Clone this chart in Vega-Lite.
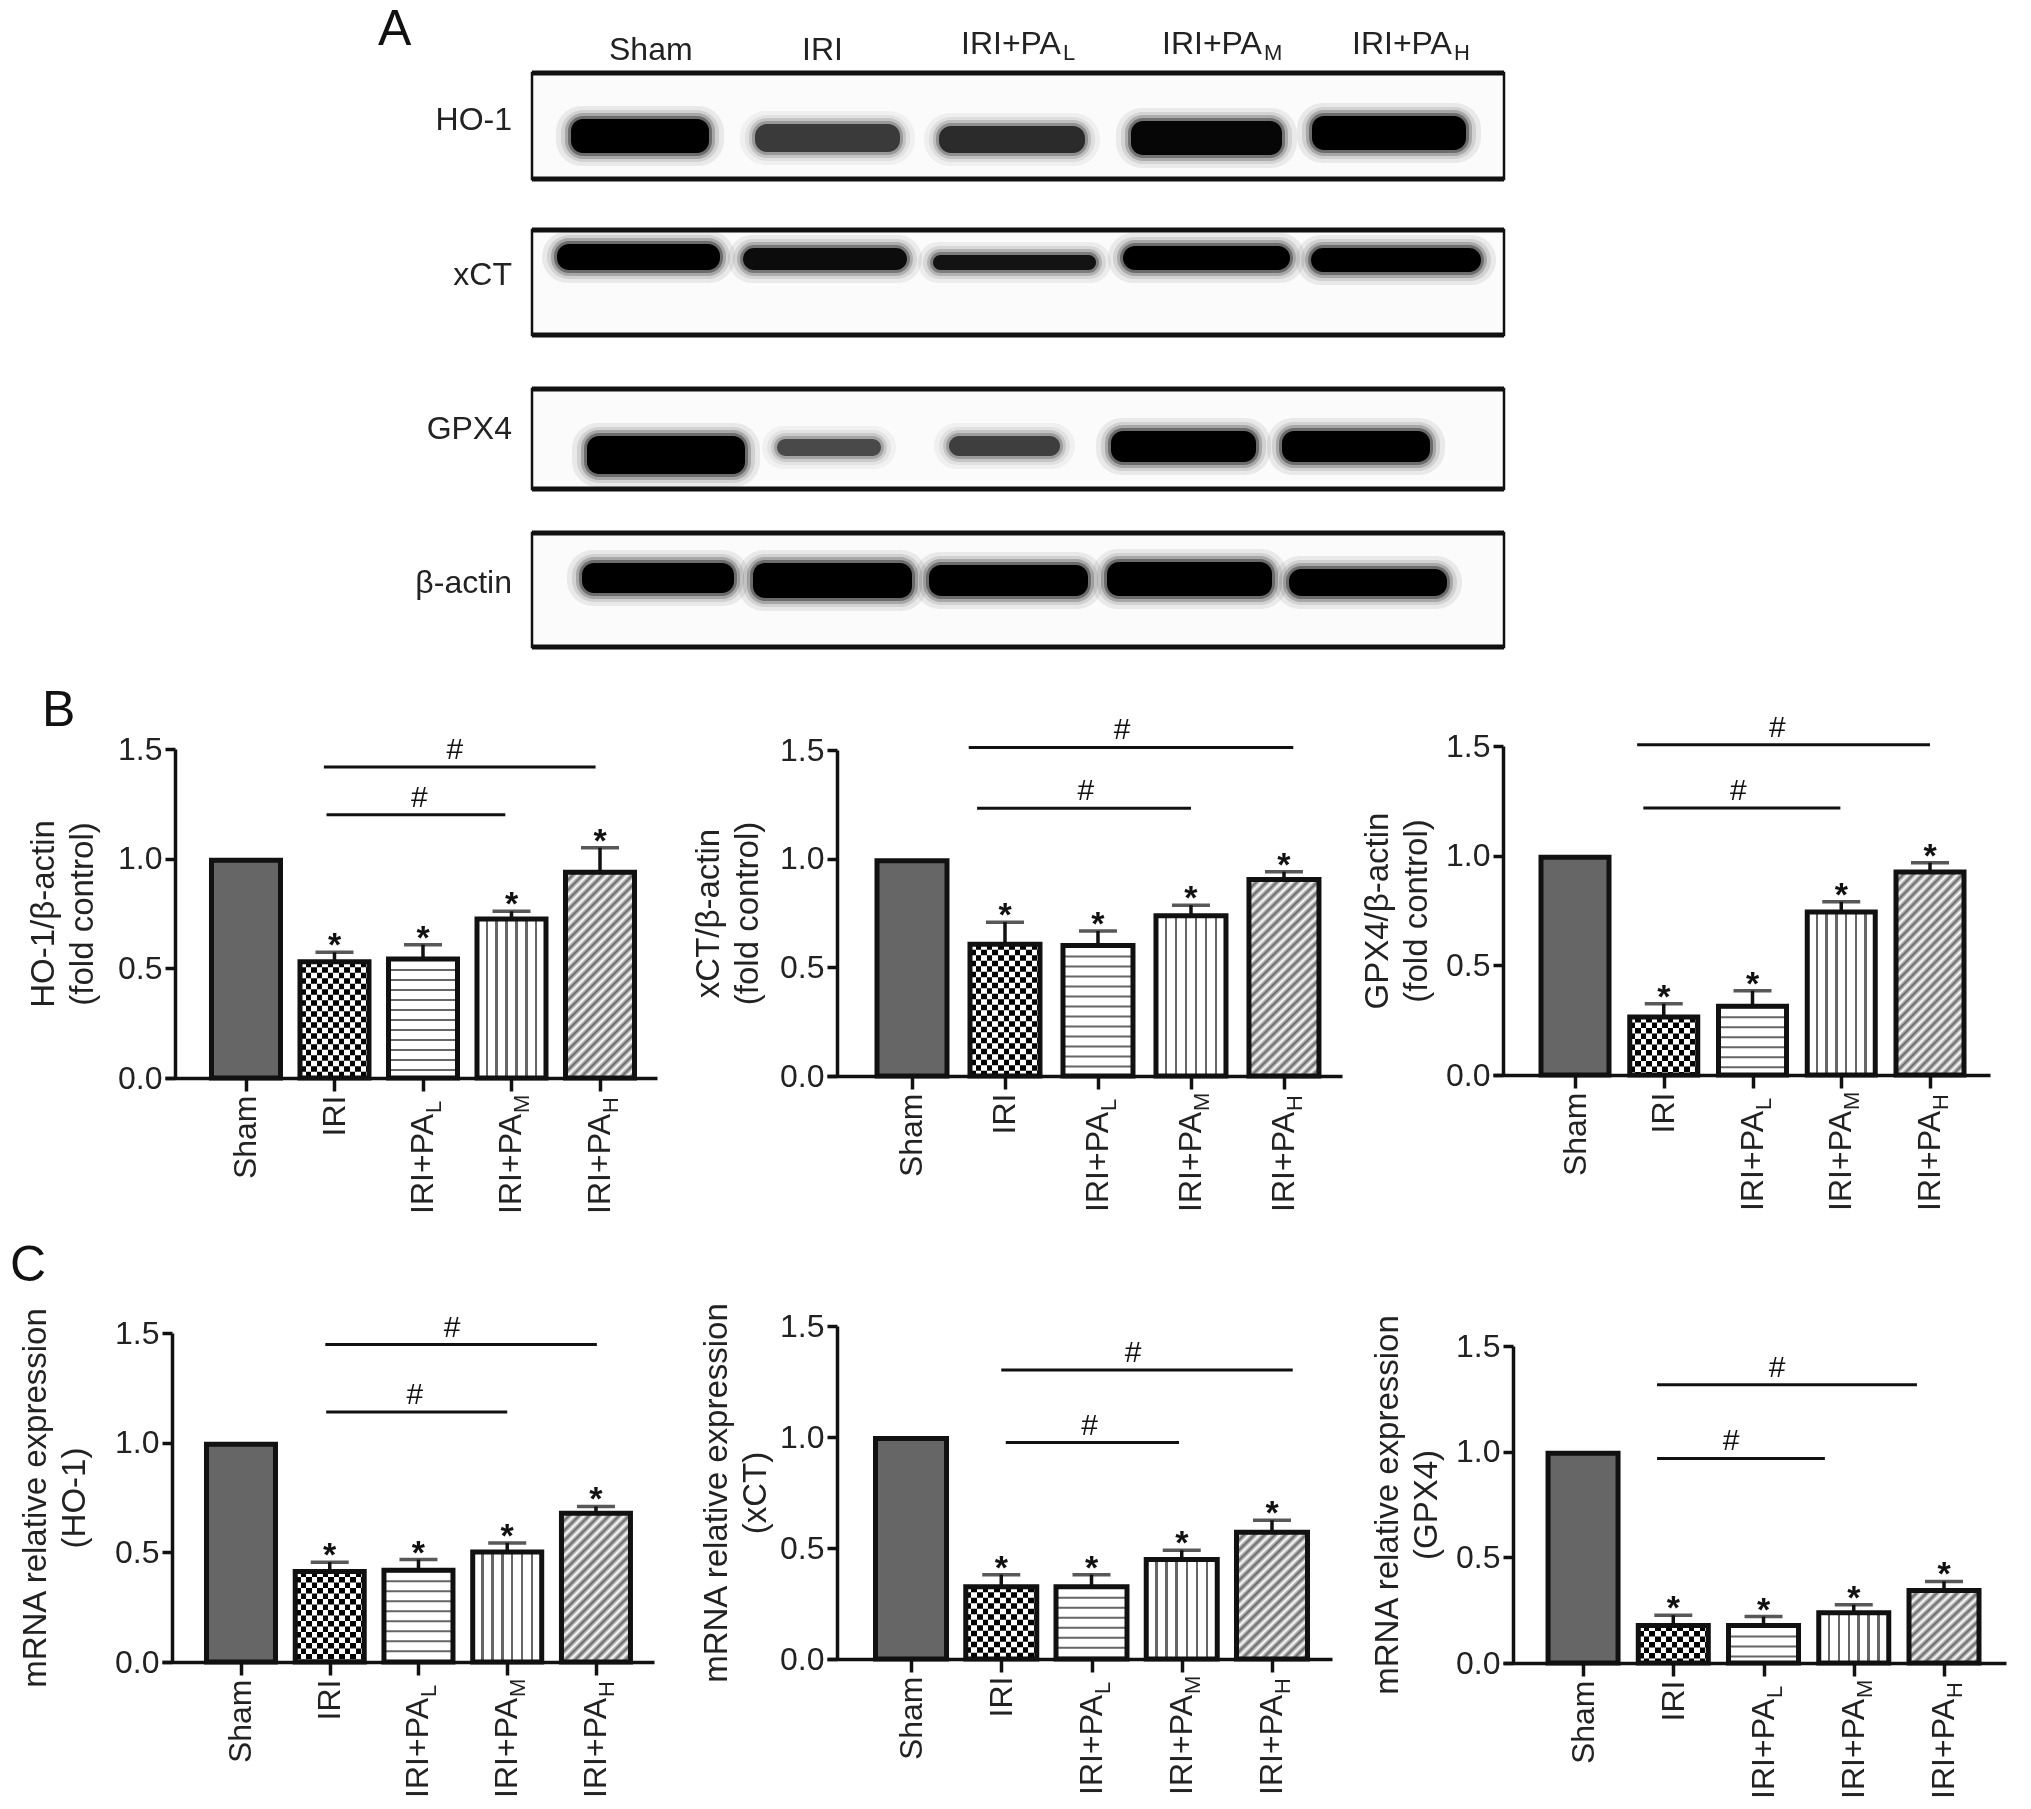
{"$schema":"https://vega.github.io/schema/vega-lite/v6.json","background":"white","padding":{"left":10,"top":0,"right":0,"bottom":0},
"params":[
{"name":"labs","expr":"['Sham','IRI','','','']"},
{"name":"cg","expr":"{gradient:'linear',x1:0,y1:0,x2:1,y2:0,stops:[{offset:0,color:'#000'},{offset:.08,color:'#000'},{offset:.08,color:'#fff'},{offset:.16,color:'#fff'},{offset:.16,color:'#000'},{offset:.24,color:'#000'},{offset:.24,color:'#fff'},{offset:.32,color:'#fff'},{offset:.32,color:'#000'},{offset:.4,color:'#000'},{offset:.4,color:'#fff'},{offset:.48,color:'#fff'},{offset:.48,color:'#000'},{offset:.56,color:'#000'},{offset:.56,color:'#fff'},{offset:.64,color:'#fff'},{offset:.64,color:'#000'},{offset:.72,color:'#000'},{offset:.72,color:'#fff'},{offset:.8,color:'#fff'},{offset:.8,color:'#000'},{offset:.88,color:'#000'},{offset:.88,color:'#fff'},{offset:.96,color:'#fff'},{offset:.96,color:'#000'},{offset:1,color:'#000'}]}"},
{"name":"vg","expr":"{gradient:'linear',x1:0,y1:0,x2:1,y2:0,stops:[{offset:0,color:'#fff'},{offset:.125,color:'#fff'},{offset:.125,color:'#666'},{offset:.16,color:'#666'},{offset:.16,color:'#fff'},{offset:.268,color:'#fff'},{offset:.268,color:'#666'},{offset:.304,color:'#666'},{offset:.304,color:'#fff'},{offset:.411,color:'#fff'},{offset:.411,color:'#666'},{offset:.447,color:'#666'},{offset:.447,color:'#fff'},{offset:.553,color:'#fff'},{offset:.553,color:'#666'},{offset:.589,color:'#666'},{offset:.589,color:'#fff'},{offset:.696,color:'#fff'},{offset:.696,color:'#666'},{offset:.732,color:'#666'},{offset:.732,color:'#fff'},{offset:.839,color:'#fff'},{offset:.839,color:'#666'},{offset:.875,color:'#666'},{offset:.875,color:'#fff'},{offset:1,color:'#fff'}]}"},
{"name":"hs","expr":"[{offset:0,color:'#666'},{offset:.0125,color:'#fff'},{offset:.025,color:'#666'},{offset:.0375,color:'#fff'},{offset:.05,color:'#666'},{offset:.0625,color:'#fff'},{offset:.075,color:'#666'},{offset:.0875,color:'#fff'},{offset:.1,color:'#666'},{offset:.1125,color:'#fff'},{offset:.125,color:'#666'},{offset:.1375,color:'#fff'},{offset:.15,color:'#666'},{offset:.1625,color:'#fff'},{offset:.175,color:'#666'},{offset:.1875,color:'#fff'},{offset:.2,color:'#666'},{offset:.2125,color:'#fff'},{offset:.225,color:'#666'},{offset:.2375,color:'#fff'},{offset:.25,color:'#666'},{offset:.2625,color:'#fff'},{offset:.275,color:'#666'},{offset:.2875,color:'#fff'},{offset:.3,color:'#666'},{offset:.3125,color:'#fff'},{offset:.325,color:'#666'},{offset:.3375,color:'#fff'},{offset:.35,color:'#666'},{offset:.3625,color:'#fff'},{offset:.375,color:'#666'},{offset:.3875,color:'#fff'},{offset:.4,color:'#666'},{offset:.4125,color:'#fff'},{offset:.425,color:'#666'},{offset:.4375,color:'#fff'},{offset:.45,color:'#666'},{offset:.4625,color:'#fff'},{offset:.475,color:'#666'},{offset:.4875,color:'#fff'},{offset:.5,color:'#666'},{offset:.5125,color:'#fff'},{offset:.525,color:'#666'},{offset:.5375,color:'#fff'},{offset:.55,color:'#666'},{offset:.5625,color:'#fff'},{offset:.575,color:'#666'},{offset:.5875,color:'#fff'},{offset:.6,color:'#666'},{offset:.6125,color:'#fff'},{offset:.625,color:'#666'},{offset:.6375,color:'#fff'},{offset:.65,color:'#666'},{offset:.6625,color:'#fff'},{offset:.675,color:'#666'},{offset:.6875,color:'#fff'},{offset:.7,color:'#666'},{offset:.7125,color:'#fff'},{offset:.725,color:'#666'},{offset:.7375,color:'#fff'},{offset:.75,color:'#666'},{offset:.7625,color:'#fff'},{offset:.775,color:'#666'},{offset:.7875,color:'#fff'},{offset:.8,color:'#666'},{offset:.8125,color:'#fff'},{offset:.825,color:'#666'},{offset:.8375,color:'#fff'},{offset:.85,color:'#666'},{offset:.8625,color:'#fff'},{offset:.875,color:'#666'},{offset:.8875,color:'#fff'},{offset:.9,color:'#666'},{offset:.9125,color:'#fff'},{offset:.925,color:'#666'},{offset:.9375,color:'#fff'},{offset:.95,color:'#666'},{offset:.9625,color:'#fff'},{offset:.975,color:'#666'},{offset:.9875,color:'#fff'},{offset:1,color:'#666'}]"}
],
"columns":3,"spacing":0,"bounds":"flush","align":"none",
"concat":[
{"width":665,"height":680,"title":{"text":"A","dx":206,"dy":59},
"layer":[
{"data":{"name":"frames"},"mark":{"type":"rect","fill":"#fbfbfb","stroke":"#111","strokeWidth":2.5},"encoding":{"x":{"field":"x0","type":"quantitative","scale":{"domain":[0,1340],"range":[0,1340],"nice":false},"axis":null},"x2":{"field":"x1"},"y":{"field":"y0","type":"quantitative","scale":{"domain":[0,680],"range":[0,680],"nice":false},"axis":null},"y2":{"field":"y1"}}},
{"data":{"name":"frames"},"mark":{"type":"rule","stroke":"#111","strokeWidth":5},"encoding":{"x":{"field":"x0","type":"quantitative"},"x2":{"field":"x1"},"y":{"field":"y0","type":"quantitative"}}},
{"data":{"name":"frames"},"mark":{"type":"rule","stroke":"#111","strokeWidth":5},"encoding":{"x":{"field":"x0","type":"quantitative"},"x2":{"field":"x1"},"y":{"field":"y1","type":"quantitative"}}},
{"data":{"name":"frames"},"mark":{"type":"text","align":"right","baseline":"middle","dx":-20,"fontSize":32,"color":"#222"},"encoding":{"x":{"field":"x0","type":"quantitative"},"y":{"field":"ly","type":"quantitative"},"text":{"field":"blot"}}},
{"data":{"name":"lanes"},"mark":{"type":"text","align":"left","baseline":"alphabetic","fontSize":32,"color":"#222"},"encoding":{"x":{"field":"x","type":"quantitative"},"y":{"field":"y","type":"quantitative"},"text":{"field":"t"}}},
{"data":{"name":"lanes"},"transform":[{"filter":"datum.sub"}],"mark":{"type":"text","align":"left","baseline":"alphabetic","fontSize":22,"dx":102,"dy":6,"color":"#222"},"encoding":{"x":{"field":"x","type":"quantitative"},"y":{"field":"y","type":"quantitative"},"text":{"field":"sub"}}},
{"data":{"name":"bands"},"mark":{"type":"rect","fill":"#000","cornerRadius":26,"xOffset":-15,"x2Offset":15,"yOffset":-13,"y2Offset":13},"encoding":{"x":{"field":"x0","type":"quantitative"},"x2":{"field":"x1"},"y":{"field":"y0","type":"quantitative"},"y2":{"field":"y1"},"opacity":{"field":"den","type":"quantitative","scale":{"domain":[0,1],"range":[0,0.07]},"legend":null}}},
{"data":{"name":"bands"},"mark":{"type":"rect","fill":"#000","cornerRadius":22,"xOffset":-10,"x2Offset":10,"yOffset":-9,"y2Offset":9},"encoding":{"x":{"field":"x0","type":"quantitative"},"x2":{"field":"x1"},"y":{"field":"y0","type":"quantitative"},"y2":{"field":"y1"},"opacity":{"field":"den","type":"quantitative","scale":{"domain":[0,1],"range":[0,0.1]},"legend":null}}},
{"data":{"name":"bands"},"mark":{"type":"rect","fill":"#000","cornerRadius":18,"xOffset":-6,"x2Offset":6,"yOffset":-6,"y2Offset":6},"encoding":{"x":{"field":"x0","type":"quantitative"},"x2":{"field":"x1"},"y":{"field":"y0","type":"quantitative"},"y2":{"field":"y1"},"opacity":{"field":"den","type":"quantitative","scale":{"domain":[0,1],"range":[0,0.2]},"legend":null}}},
{"data":{"name":"bands"},"mark":{"type":"rect","fill":"#000","cornerRadius":15,"xOffset":-3,"x2Offset":3,"yOffset":-3,"y2Offset":3},"encoding":{"x":{"field":"x0","type":"quantitative"},"x2":{"field":"x1"},"y":{"field":"y0","type":"quantitative"},"y2":{"field":"y1"},"opacity":{"field":"den","type":"quantitative","scale":{"domain":[0,1],"range":[0,0.35]},"legend":null}}},
{"data":{"name":"bands"},"mark":{"type":"rect","fill":"#000","cornerRadius":12},"encoding":{"x":{"field":"x0","type":"quantitative"},"x2":{"field":"x1"},"y":{"field":"y0","type":"quantitative"},"y2":{"field":"y1"},"opacity":{"field":"den","type":"quantitative","scale":{"domain":[0,1],"range":[0,1]},"legend":null}}}
],"resolve":{"scale":{"opacity":"independent"}}},
{"data":{"values":[{}]},"mark":{"type":"point","opacity":0},"encoding":{},"width":1,"height":680},
{"data":{"values":[{}]},"mark":{"type":"point","opacity":0},"encoding":{},"width":1,"height":680},

{"width":665,"height":398,"title":{"text":"B","dx":-130,"dy":60},"data":{"values":[{"lane":0,"g":"Sham","v":0.993},{"lane":1,"g":"IRI","v":0.53,"hi":0.573},{"lane":2,"g":"IRI+PAL","v":0.543,"hi":0.608},{"lane":3,"g":"IRI+PAM","v":0.725,"hi":0.76},{"lane":4,"g":"IRI+PAH","v":0.938,"hi":1.05}]},
"encoding":{"x":{"field":"lane","type":"quantitative","title":null,"scale":{"domain":[-0.915,4.644],"range":[-7,485],"zero":false,"nice":false,"padding":0},"axis":{"values":[0,1,2,3,4],"labelExpr":"labs[datum.value]"}},"y":{"field":"v","type":"quantitative","stack":null,"scale":{"domain":[0,1.5],"range":[398,69]},"axis":{"values":[0,0.5,1,1.5],"title":["HO-1/β-actin","(fold control)"],"offset":-3,"titlePadding":18}}},
"layer":[
{"mark":{"type":"bar","orient":"vertical","size":69,"fill":{"expr":"datum.lane==0?'#666':datum.lane==1?cg:datum.lane==2?'#fff':datum.lane==3?vg:{gradient:'linear',x1:0,y1:0,x2:27600/(4761+pow(219*datum.v,2)),y2:87600*datum.v/(4761+pow(219*datum.v,2)),stops:hs}"}}},
{"transform":[{"filter":"datum.lane==1"}],"mark":{"type":"rule","stroke":"#fff","strokeWidth":69,"strokeDash":[5.5,5.5],"blend":"difference"},"encoding":{"y2":{"datum":0}}},
{"transform":[{"filter":"datum.lane==2"}],"mark":{"type":"rule","stroke":"#666","strokeWidth":69,"strokeDash":[2,8]},"encoding":{"y2":{"datum":0}}},
{"transform":[{"filter":"datum.hi>0"}],"mark":{"type":"rule","stroke":"#111","strokeWidth":3.5},"encoding":{"y2":{"field":"hi"}}},
{"mark":{"type":"bar","orient":"vertical","size":69,"fill":"transparent","stroke":"#111","strokeWidth":5}},
{"transform":[{"filter":"datum.hi>0"}],"mark":{"type":"tick","orient":"horizontal","size":38,"thickness":3.5,"color":"#111"},"encoding":{"y":{"field":"hi","type":"quantitative"}}},
{"transform":[{"filter":"datum.hi>0"}],"mark":{"type":"text","text":"*","fontSize":34,"fontWeight":"bold","baseline":"alphabetic","dy":4,"color":"#111"},"encoding":{"y":{"field":"hi","type":"quantitative"}}},
{"transform":[{"filter":"length(datum.g)>6"}],"mark":{"type":"text","text":{"expr":"substring(datum.g,0,6)"},"fontSize":32,"angle":270,"align":"right","baseline":"middle","dx":-36,"color":"#222"},"encoding":{"y":{"datum":0}}},
{"transform":[{"filter":"length(datum.g)>6"}],"mark":{"type":"text","text":{"expr":"substring(datum.g,6)"},"fontSize":22,"angle":270,"align":"left","baseline":"middle","dx":-35,"dy":11,"color":"#222"},"encoding":{"y":{"datum":0}}},
{"data":{"values":[{"from":0.88,"to":3.95,"lvl":1.418,"hx":2.36},{"from":0.91,"to":2.93,"lvl":1.2,"hx":1.96}]},"layer":[
{"mark":{"type":"rule","stroke":"#111","strokeWidth":3},"encoding":{"x":{"field":"from","type":"quantitative"},"x2":{"field":"to"},"y":{"field":"lvl","type":"quantitative"}}},
{"mark":{"type":"text","text":"#","fontSize":30,"baseline":"alphabetic","dy":-8,"color":"#111"},"encoding":{"x":{"field":"hx","type":"quantitative"},"y":{"field":"lvl","type":"quantitative"}}}]}
]},

{"width":676,"height":396,"data":{"values":[{"lane":0,"g":"Sham","v":0.99},{"lane":1,"g":"IRI","v":0.606,"hi":0.708},{"lane":2,"g":"IRI+PAL","v":0.6,"hi":0.667},{"lane":3,"g":"IRI+PAM","v":0.737,"hi":0.786},{"lane":4,"g":"IRI+PAH","v":0.904,"hi":0.94}]},
"encoding":{"x":{"field":"lane","type":"quantitative","title":null,"scale":{"domain":[-0.914,4.624],"range":[-10,505],"zero":false,"nice":false,"padding":0},"axis":{"values":[0,1,2,3,4],"labelExpr":"labs[datum.value]"}},"y":{"field":"v","type":"quantitative","stack":null,"scale":{"domain":[0,1.5],"range":[396,70]},"axis":{"values":[0,0.5,1,1.5],"title":["xCT/β-actin","(fold control)"],"titlePadding":15}}},
"layer":[
{"mark":{"type":"bar","orient":"vertical","size":70,"fill":{"expr":"datum.lane==0?'#666':datum.lane==1?cg:datum.lane==2?'#fff':datum.lane==3?vg:{gradient:'linear',x1:0,y1:0,x2:27600/(4761+pow(219*datum.v,2)),y2:87600*datum.v/(4761+pow(219*datum.v,2)),stops:hs}"}}},
{"transform":[{"filter":"datum.lane==1"}],"mark":{"type":"rule","stroke":"#fff","strokeWidth":70,"strokeDash":[5.5,5.5],"blend":"difference"},"encoding":{"y2":{"datum":0}}},
{"transform":[{"filter":"datum.lane==2"}],"mark":{"type":"rule","stroke":"#666","strokeWidth":70,"strokeDash":[2,8]},"encoding":{"y2":{"datum":0}}},
{"transform":[{"filter":"datum.hi>0"}],"mark":{"type":"rule","stroke":"#111","strokeWidth":3.5},"encoding":{"y2":{"field":"hi"}}},
{"mark":{"type":"bar","orient":"vertical","size":70,"fill":"transparent","stroke":"#111","strokeWidth":5}},
{"transform":[{"filter":"datum.hi>0"}],"mark":{"type":"tick","orient":"horizontal","size":38,"thickness":3.5,"color":"#111"},"encoding":{"y":{"field":"hi","type":"quantitative"}}},
{"transform":[{"filter":"datum.hi>0"}],"mark":{"type":"text","text":"*","fontSize":34,"fontWeight":"bold","baseline":"alphabetic","dy":4,"color":"#111"},"encoding":{"y":{"field":"hi","type":"quantitative"}}},
{"transform":[{"filter":"length(datum.g)>6"}],"mark":{"type":"text","text":{"expr":"substring(datum.g,0,6)"},"fontSize":32,"angle":270,"align":"right","baseline":"middle","dx":-36,"color":"#222"},"encoding":{"y":{"datum":0}}},
{"transform":[{"filter":"length(datum.g)>6"}],"mark":{"type":"text","text":{"expr":"substring(datum.g,6)"},"fontSize":22,"angle":270,"align":"left","baseline":"middle","dx":-35,"dy":11,"color":"#222"},"encoding":{"y":{"datum":0}}},
{"data":{"values":[{"from":0.61,"to":4.1,"lvl":1.512,"hx":2.26},{"from":0.7,"to":3.0,"lvl":1.232,"hx":1.87}]},"layer":[
{"mark":{"type":"rule","stroke":"#111","strokeWidth":3},"encoding":{"x":{"field":"from","type":"quantitative"},"x2":{"field":"to"},"y":{"field":"lvl","type":"quantitative"}}},
{"mark":{"type":"text","text":"#","fontSize":30,"baseline":"alphabetic","dy":-8,"color":"#111"},"encoding":{"x":{"field":"hx","type":"quantitative"},"y":{"field":"lvl","type":"quantitative"}}}]}
]},

{"width":487,"height":395,"data":{"values":[{"lane":0,"g":"Sham","v":0.993},{"lane":1,"g":"IRI","v":0.265,"hi":0.325},{"lane":2,"g":"IRI+PAL","v":0.313,"hi":0.384},{"lane":3,"g":"IRI+PAM","v":0.743,"hi":0.79},{"lane":4,"g":"IRI+PAH","v":0.926,"hi":0.968}]},
"encoding":{"x":{"field":"lane","type":"quantitative","title":null,"scale":{"domain":[-0.924,4.676],"range":[-20,477],"zero":false,"nice":false,"padding":0},"axis":{"values":[0,1,2,3,4],"labelExpr":"labs[datum.value]"}},"y":{"field":"v","type":"quantitative","stack":null,"scale":{"domain":[0,1.5],"range":[395,66]},"axis":{"values":[0,0.5,1,1.5],"title":["GPX4/β-actin","(fold control)"],"offset":10,"titlePadding":12}}},
"layer":[
{"mark":{"type":"bar","orient":"vertical","size":68,"fill":{"expr":"datum.lane==0?'#666':datum.lane==1?cg:datum.lane==2?'#fff':datum.lane==3?vg:{gradient:'linear',x1:0,y1:0,x2:27600/(4761+pow(219*datum.v,2)),y2:87600*datum.v/(4761+pow(219*datum.v,2)),stops:hs}"}}},
{"transform":[{"filter":"datum.lane==1"}],"mark":{"type":"rule","stroke":"#fff","strokeWidth":68,"strokeDash":[5.5,5.5],"blend":"difference"},"encoding":{"y2":{"datum":0}}},
{"transform":[{"filter":"datum.lane==2"}],"mark":{"type":"rule","stroke":"#666","strokeWidth":68,"strokeDash":[2,8]},"encoding":{"y2":{"datum":0}}},
{"transform":[{"filter":"datum.hi>0"}],"mark":{"type":"rule","stroke":"#111","strokeWidth":3.5},"encoding":{"y2":{"field":"hi"}}},
{"mark":{"type":"bar","orient":"vertical","size":68,"fill":"transparent","stroke":"#111","strokeWidth":5}},
{"transform":[{"filter":"datum.hi>0"}],"mark":{"type":"tick","orient":"horizontal","size":38,"thickness":3.5,"color":"#111"},"encoding":{"y":{"field":"hi","type":"quantitative"}}},
{"transform":[{"filter":"datum.hi>0"}],"mark":{"type":"text","text":"*","fontSize":34,"fontWeight":"bold","baseline":"alphabetic","dy":4,"color":"#111"},"encoding":{"y":{"field":"hi","type":"quantitative"}}},
{"transform":[{"filter":"length(datum.g)>6"}],"mark":{"type":"text","text":{"expr":"substring(datum.g,0,6)"},"fontSize":32,"angle":270,"align":"right","baseline":"middle","dx":-36,"color":"#222"},"encoding":{"y":{"datum":0}}},
{"transform":[{"filter":"length(datum.g)>6"}],"mark":{"type":"text","text":{"expr":"substring(datum.g,6)"},"fontSize":22,"angle":270,"align":"left","baseline":"middle","dx":-35,"dy":11,"color":"#222"},"encoding":{"y":{"datum":0}}},
{"data":{"values":[{"from":0.7,"to":4.0,"lvl":1.506,"hx":2.28},{"from":0.77,"to":2.99,"lvl":1.217,"hx":1.84}]},"layer":[
{"mark":{"type":"rule","stroke":"#111","strokeWidth":3},"encoding":{"x":{"field":"from","type":"quantitative"},"x2":{"field":"to"},"y":{"field":"lvl","type":"quantitative"}}},
{"mark":{"type":"text","text":"#","fontSize":30,"baseline":"alphabetic","dy":-8,"color":"#111"},"encoding":{"x":{"field":"hx","type":"quantitative"},"y":{"field":"lvl","type":"quantitative"}}}]}
]},

{"width":665,"height":584,"title":{"text":"C","dx":-162,"dy":217},"data":{"values":[{"lane":0,"g":"Sham","v":0.993},{"lane":1,"g":"IRI","v":0.413,"hi":0.455},{"lane":2,"g":"IRI+PAL","v":0.418,"hi":0.467},{"lane":3,"g":"IRI+PAM","v":0.501,"hi":0.543},{"lane":4,"g":"IRI+PAH","v":0.678,"hi":0.709}]},
"encoding":{"x":{"field":"lane","type":"quantitative","title":null,"scale":{"domain":[-0.89,4.654],"range":[-10,482],"zero":false,"nice":false,"padding":0},"axis":{"values":[0,1,2,3,4],"labelExpr":"labs[datum.value]"}},"y":{"field":"v","type":"quantitative","stack":null,"scale":{"domain":[0,1.5],"range":[584,255]},"axis":{"values":[0,0.5,1,1.5],"title":["mRNA relative expression","(HO-1)"],"titlePadding":23}}},
"layer":[
{"mark":{"type":"bar","orient":"vertical","size":69,"fill":{"expr":"datum.lane==0?'#666':datum.lane==1?cg:datum.lane==2?'#fff':datum.lane==3?vg:{gradient:'linear',x1:0,y1:0,x2:27600/(4761+pow(219*datum.v,2)),y2:87600*datum.v/(4761+pow(219*datum.v,2)),stops:hs}"}}},
{"transform":[{"filter":"datum.lane==1"}],"mark":{"type":"rule","stroke":"#fff","strokeWidth":69,"strokeDash":[5.5,5.5],"blend":"difference"},"encoding":{"y2":{"datum":0}}},
{"transform":[{"filter":"datum.lane==2"}],"mark":{"type":"rule","stroke":"#666","strokeWidth":69,"strokeDash":[2,8]},"encoding":{"y2":{"datum":0}}},
{"transform":[{"filter":"datum.hi>0"}],"mark":{"type":"rule","stroke":"#111","strokeWidth":3.5},"encoding":{"y2":{"field":"hi"}}},
{"mark":{"type":"bar","orient":"vertical","size":69,"fill":"transparent","stroke":"#111","strokeWidth":5}},
{"transform":[{"filter":"datum.hi>0"}],"mark":{"type":"tick","orient":"horizontal","size":38,"thickness":3.5,"color":"#111"},"encoding":{"y":{"field":"hi","type":"quantitative"}}},
{"transform":[{"filter":"datum.hi>0"}],"mark":{"type":"text","text":"*","fontSize":34,"fontWeight":"bold","baseline":"alphabetic","dy":4,"color":"#111"},"encoding":{"y":{"field":"hi","type":"quantitative"}}},
{"transform":[{"filter":"length(datum.g)>6"}],"mark":{"type":"text","text":{"expr":"substring(datum.g,0,6)"},"fontSize":32,"angle":270,"align":"right","baseline":"middle","dx":-36,"color":"#222"},"encoding":{"y":{"datum":0}}},
{"transform":[{"filter":"length(datum.g)>6"}],"mark":{"type":"text","text":{"expr":"substring(datum.g,6)"},"fontSize":22,"angle":270,"align":"left","baseline":"middle","dx":-35,"dy":11,"color":"#222"},"encoding":{"y":{"datum":0}}},
{"data":{"values":[{"from":0.95,"to":4.01,"lvl":1.447,"hx":2.38},{"from":0.96,"to":3.0,"lvl":1.14,"hx":1.96}]},"layer":[
{"mark":{"type":"rule","stroke":"#111","strokeWidth":3},"encoding":{"x":{"field":"from","type":"quantitative"},"x2":{"field":"to"},"y":{"field":"lvl","type":"quantitative"}}},
{"mark":{"type":"text","text":"#","fontSize":30,"baseline":"alphabetic","dy":-8,"color":"#111"},"encoding":{"x":{"field":"hx","type":"quantitative"},"y":{"field":"lvl","type":"quantitative"}}}]}
]},

{"width":676,"height":581,"data":{"values":[{"lane":0,"g":"Sham","v":0.993},{"lane":1,"g":"IRI","v":0.326,"hi":0.38},{"lane":2,"g":"IRI+PAL","v":0.326,"hi":0.38},{"lane":3,"g":"IRI+PAM","v":0.448,"hi":0.49},{"lane":4,"g":"IRI+PAH","v":0.571,"hi":0.625}]},
"encoding":{"x":{"field":"lane","type":"quantitative","title":null,"scale":{"domain":[-0.931,4.665],"range":[-10,495],"zero":false,"nice":false,"padding":0},"axis":{"values":[0,1,2,3,4],"labelExpr":"labs[datum.value]"}},"y":{"field":"v","type":"quantitative","stack":null,"scale":{"domain":[0,1.5],"range":[581,248]},"axis":{"values":[0,0.5,1,1.5],"title":["mRNA relative expression","(xCT)"],"titlePadding":7}}},
"layer":[
{"mark":{"type":"bar","orient":"vertical","size":71,"fill":{"expr":"datum.lane==0?'#666':datum.lane==1?cg:datum.lane==2?'#fff':datum.lane==3?vg:{gradient:'linear',x1:0,y1:0,x2:27600/(4761+pow(219*datum.v,2)),y2:87600*datum.v/(4761+pow(219*datum.v,2)),stops:hs}"}}},
{"transform":[{"filter":"datum.lane==1"}],"mark":{"type":"rule","stroke":"#fff","strokeWidth":71,"strokeDash":[5.5,5.5],"blend":"difference"},"encoding":{"y2":{"datum":0}}},
{"transform":[{"filter":"datum.lane==2"}],"mark":{"type":"rule","stroke":"#666","strokeWidth":71,"strokeDash":[2,8]},"encoding":{"y2":{"datum":0}}},
{"transform":[{"filter":"datum.hi>0"}],"mark":{"type":"rule","stroke":"#111","strokeWidth":3.5},"encoding":{"y2":{"field":"hi"}}},
{"mark":{"type":"bar","orient":"vertical","size":71,"fill":"transparent","stroke":"#111","strokeWidth":5}},
{"transform":[{"filter":"datum.hi>0"}],"mark":{"type":"tick","orient":"horizontal","size":38,"thickness":3.5,"color":"#111"},"encoding":{"y":{"field":"hi","type":"quantitative"}}},
{"transform":[{"filter":"datum.hi>0"}],"mark":{"type":"text","text":"*","fontSize":34,"fontWeight":"bold","baseline":"alphabetic","dy":4,"color":"#111"},"encoding":{"y":{"field":"hi","type":"quantitative"}}},
{"transform":[{"filter":"length(datum.g)>6"}],"mark":{"type":"text","text":{"expr":"substring(datum.g,0,6)"},"fontSize":32,"angle":270,"align":"right","baseline":"middle","dx":-36,"color":"#222"},"encoding":{"y":{"datum":0}}},
{"transform":[{"filter":"length(datum.g)>6"}],"mark":{"type":"text","text":{"expr":"substring(datum.g,6)"},"fontSize":22,"angle":270,"align":"left","baseline":"middle","dx":-35,"dy":11,"color":"#222"},"encoding":{"y":{"datum":0}}},
{"data":{"values":[{"from":1.0,"to":4.23,"lvl":1.302,"hx":2.46},{"from":1.05,"to":2.97,"lvl":0.975,"hx":1.98}]},"layer":[
{"mark":{"type":"rule","stroke":"#111","strokeWidth":3},"encoding":{"x":{"field":"from","type":"quantitative"},"x2":{"field":"to"},"y":{"field":"lvl","type":"quantitative"}}},
{"mark":{"type":"text","text":"#","fontSize":30,"baseline":"alphabetic","dy":-8,"color":"#111"},"encoding":{"x":{"field":"hx","type":"quantitative"},"y":{"field":"lvl","type":"quantitative"}}}]}
]},

{"width":493,"height":585,"data":{"values":[{"lane":0,"g":"Sham","v":0.993},{"lane":1,"g":"IRI","v":0.177,"hi":0.226},{"lane":2,"g":"IRI+PAL","v":0.177,"hi":0.22},{"lane":3,"g":"IRI+PAM","v":0.238,"hi":0.276},{"lane":4,"g":"IRI+PAH","v":0.343,"hi":0.386}]},
"encoding":{"x":{"field":"lane","type":"quantitative","title":null,"scale":{"domain":[-0.887,4.687],"range":[-10,493],"zero":false,"nice":false,"padding":0},"axis":{"values":[0,1,2,3,4],"labelExpr":"labs[datum.value]"}},"y":{"field":"v","type":"quantitative","stack":null,"scale":{"domain":[0,1.5],"range":[585,268]},"axis":{"values":[0,0.5,1,1.5],"title":["mRNA relative expression","(GPX4)"],"titlePadding":12}}},
"layer":[
{"mark":{"type":"bar","orient":"vertical","size":70,"fill":{"expr":"datum.lane==0?'#666':datum.lane==1?cg:datum.lane==2?'#fff':datum.lane==3?vg:{gradient:'linear',x1:0,y1:0,x2:27600/(4761+pow(219*datum.v,2)),y2:87600*datum.v/(4761+pow(219*datum.v,2)),stops:hs}"}}},
{"transform":[{"filter":"datum.lane==1"}],"mark":{"type":"rule","stroke":"#fff","strokeWidth":70,"strokeDash":[5.5,5.5],"blend":"difference"},"encoding":{"y2":{"datum":0}}},
{"transform":[{"filter":"datum.lane==2"}],"mark":{"type":"rule","stroke":"#666","strokeWidth":70,"strokeDash":[2,8]},"encoding":{"y2":{"datum":0}}},
{"transform":[{"filter":"datum.hi>0"}],"mark":{"type":"rule","stroke":"#111","strokeWidth":3.5},"encoding":{"y2":{"field":"hi"}}},
{"mark":{"type":"bar","orient":"vertical","size":70,"fill":"transparent","stroke":"#111","strokeWidth":5}},
{"transform":[{"filter":"datum.hi>0"}],"mark":{"type":"tick","orient":"horizontal","size":38,"thickness":3.5,"color":"#111"},"encoding":{"y":{"field":"hi","type":"quantitative"}}},
{"transform":[{"filter":"datum.hi>0"}],"mark":{"type":"text","text":"*","fontSize":34,"fontWeight":"bold","baseline":"alphabetic","dy":4,"color":"#111"},"encoding":{"y":{"field":"hi","type":"quantitative"}}},
{"transform":[{"filter":"length(datum.g)>6"}],"mark":{"type":"text","text":{"expr":"substring(datum.g,0,6)"},"fontSize":32,"angle":270,"align":"right","baseline":"middle","dx":-36,"color":"#222"},"encoding":{"y":{"datum":0}}},
{"transform":[{"filter":"length(datum.g)>6"}],"mark":{"type":"text","text":{"expr":"substring(datum.g,6)"},"fontSize":22,"angle":270,"align":"left","baseline":"middle","dx":-35,"dy":11,"color":"#222"},"encoding":{"y":{"datum":0}}},
{"data":{"values":[{"from":0.82,"to":3.7,"lvl":1.317,"hx":2.15},{"from":0.82,"to":2.68,"lvl":0.968,"hx":1.64}]},"layer":[
{"mark":{"type":"rule","stroke":"#111","strokeWidth":3},"encoding":{"x":{"field":"from","type":"quantitative"},"x2":{"field":"to"},"y":{"field":"lvl","type":"quantitative"}}},
{"mark":{"type":"text","text":"#","fontSize":30,"baseline":"alphabetic","dy":-8,"color":"#111"},"encoding":{"x":{"field":"hx","type":"quantitative"},"y":{"field":"lvl","type":"quantitative"}}}]}
]}
],
"datasets":{
"frames":[{"blot":"HO-1","x0":360,"x1":1332,"y0":73,"y1":179,"ly":120},{"blot":"xCT","x0":360,"x1":1332,"y0":230,"y1":335,"ly":275},{"blot":"GPX4","x0":360,"x1":1332,"y0":389,"y1":489,"ly":429},{"blot":"β-actin","x0":360,"x1":1332,"y0":533,"y1":647,"ly":583}],
"lanes":[{"t":"Sham","x":437,"y":60},{"t":"IRI","x":630,"y":60},{"t":"IRI+PA","sub":"L","x":789,"y":54},{"t":"IRI+PA","sub":"M","x":990,"y":54},{"t":"IRI+PA","sub":"H","x":1180,"y":54}],
"bands":[
{"blot":"HO-1","lane":"Sham","x0":399,"x1":537,"y0":119,"y1":153,"den":1},{"blot":"HO-1","lane":"IRI","x0":583,"x1":728,"y0":124,"y1":152,"den":0.62},{"blot":"HO-1","lane":"IRI+PAL","x0":767,"x1":913,"y0":126,"y1":153,"den":0.7},{"blot":"HO-1","lane":"IRI+PAM","x0":959,"x1":1110,"y0":121,"y1":155,"den":0.95},{"blot":"HO-1","lane":"IRI+PAH","x0":1140,"x1":1294,"y0":116,"y1":150,"den":1},
{"blot":"xCT","lane":"Sham","x0":385,"x1":548,"y0":244,"y1":270,"den":1},{"blot":"xCT","lane":"IRI","x0":571,"x1":735,"y0":248,"y1":270,"den":0.9},{"blot":"xCT","lane":"IRI+PAL","x0":761,"x1":924,"y0":255,"y1":270,"den":0.85},{"blot":"xCT","lane":"IRI+PAM","x0":951,"x1":1118,"y0":246,"y1":270,"den":1},{"blot":"xCT","lane":"IRI+PAH","x0":1139,"x1":1309,"y0":248,"y1":272,"den":1},
{"blot":"GPX4","lane":"Sham","x0":415,"x1":573,"y0":436,"y1":474,"den":1},{"blot":"GPX4","lane":"IRI","x0":605,"x1":709,"y0":439,"y1":456,"den":0.55},{"blot":"GPX4","lane":"IRI+PAL","x0":777,"x1":888,"y0":436,"y1":456,"den":0.6},{"blot":"GPX4","lane":"IRI+PAM","x0":939,"x1":1084,"y0":431,"y1":462,"den":1},{"blot":"GPX4","lane":"IRI+PAH","x0":1110,"x1":1258,"y0":431,"y1":462,"den":1},
{"blot":"β-actin","lane":"Sham","x0":410,"x1":562,"y0":563,"y1":593,"den":1},{"blot":"β-actin","lane":"IRI","x0":581,"x1":740,"y0":563,"y1":598,"den":1},{"blot":"β-actin","lane":"IRI+PAL","x0":757,"x1":916,"y0":565,"y1":596,"den":1},{"blot":"β-actin","lane":"IRI+PAM","x0":935,"x1":1100,"y0":562,"y1":596,"den":1},{"blot":"β-actin","lane":"IRI+PAH","x0":1117,"x1":1275,"y0":569,"y1":596,"den":1}]
},
"config":{"font":"Liberation Sans","view":{"stroke":null},
"title":{"anchor":"start","frame":"group","offset":0,"fontSize":50,"fontWeight":"normal","color":"#111","baseline":"alphabetic"},
"axis":{"grid":false,"domainColor":"#111","domainWidth":3.5,"tickColor":"#111","tickWidth":3.5,"labelColor":"#222","labelFontSize":32,"titleFontSize":33,"titleFontWeight":"normal","titleColor":"#222","titleLineHeight":39,"labelOverlap":false,"labelFlush":false,"labelBound":false},
"axisX":{"tickSize":13,"labelAngle":270,"labelAlign":"right","labelBaseline":"middle","labelPadding":4},
"axisY":{"tickSize":10,"labelPadding":3,"format":".1f"}}
}
